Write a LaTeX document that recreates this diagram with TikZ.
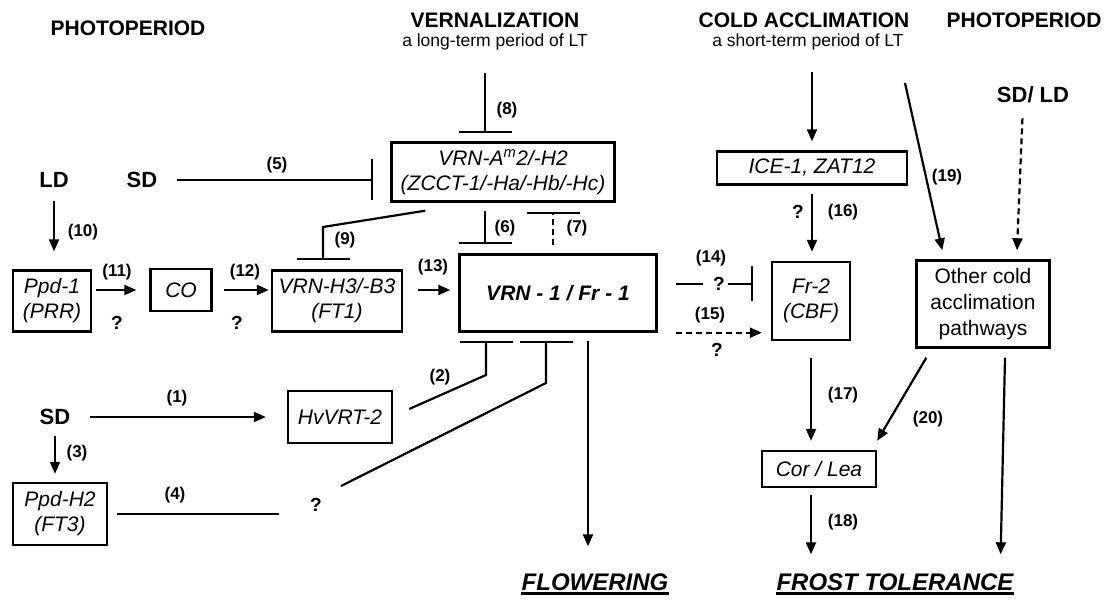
\documentclass[tikz,border=0pt]{standalone}
\usepackage{fontspec}
\setmainfont{Liberation Sans}
\usetikzlibrary{arrows.meta,positioning}

\begin{document}
\begin{tikzpicture}[x=1pt, y=-1pt,
  gene/.style={draw, line width=2.4pt, align=center, inner sep=0pt,
               font=\itshape\fontsize{21}{25}\selectfont},
  head/.style={font=\bfseries\fontsize{21}{24}\selectfont, inner sep=0pt},
  sub/.style={font=\fontsize{17.5}{20}\selectfont, inner sep=0pt},
  cue/.style={font=\bfseries\fontsize{22}{24}\selectfont, inner sep=1pt},
  lbl/.style={font=\bfseries\fontsize{17}{19}\selectfont, inner sep=1pt},
  qm/.style={font=\bfseries\fontsize{19}{21}\selectfont, inner sep=1pt},
  trait/.style={font=\bfseries\itshape\fontsize{24}{27}\selectfont, inner sep=0pt},
  arr/.style={-{Triangle[length=12pt,width=10pt]}, line width=2.2pt},
  inh/.style={-{Bar[width=#1]}, line width=2.2pt},
  inh/.default=53pt,
  dsh/.style={dash pattern=on 6pt off 4pt}
]
\useasboundingbox (0,0) rectangle (1111,601);

\node[head] (phL) at (128,28) {PHOTOPERIOD};
\node[head] (vern) at (495,20) {VERNALIZATION};
\node[sub] (vsub) at (495,42) {a long-term period of LT};
\node[head] (cold) at (804,20) {COLD ACCLIMATION};
\node[sub] (csub) at (808,42) {a short-term period of LT};
\node[head] (phR) at (1024,20) {PHOTOPERIOD};

\node[cue] (LD) at (54,180) {LD};
\node[cue] (SDa) at (142,180) {SD};
\node[cue] (SDb) at (55,417) {SD};
\node[cue] (SDLD) at (1033,95) {SD/ LD};

\node[gene, minimum width=78pt, minimum height=61pt] (Ppd1) at (52,301) {Ppd-1\\(PRR)};
\node[gene, minimum width=61pt, minimum height=42pt] (CO) at (181,290) {CO};
\node[gene, minimum width=130pt, minimum height=61pt] (VRNH3) at (337,301) {VRN-H3/-B3\\(FT1)};
\node[gene, minimum width=223pt, minimum height=59pt] (VRNA) at (503,172) {VRN-A\textsuperscript{m}2/-H2\\(ZCCT-1/-Ha/-Hb/-Hc)};
\node[gene, font=\bfseries\itshape\fontsize{21}{25}\selectfont, minimum width=197pt, minimum height=77pt] (VRN1) at (558,293) {VRN - 1 / Fr - 1};
\node[gene, minimum width=104pt, minimum height=52pt] (HvVRT) at (340,417) {HvVRT-2};
\node[gene, minimum width=94pt, minimum height=62pt] (PpdH2) at (60,514) {Ppd-H2\\(FT3)};
\node[gene, minimum width=190pt, minimum height=33pt] (ICE) at (812,168) {ICE-1, ZAT12};
\node[gene, minimum width=78pt, minimum height=78pt] (Fr2) at (811,301) {Fr-2\\(CBF)};
\node[gene, font=\fontsize{21}{26}\selectfont, minimum width=133pt, minimum height=87pt] (Other) at (983,304) {Other cold\\acclimation\\pathways};
\node[gene, minimum width=114pt, minimum height=36pt] (Cor) at (819,469) {Cor / Lea};

\node[trait] (FL) at (595,582) {FLOWERING};
\node[trait] (FT) at (895,582) {FROST TOLERANCE};
\draw[line width=2.4pt] ([yshift=-3pt]FL.south west) -- ([yshift=-3pt]FL.south east);
\draw[line width=2.4pt] ([yshift=-3pt]FT.south west) -- ([yshift=-3pt]FT.south east);

\node[lbl] (n1) at (177,398) {(1)};
\node[lbl] (n2) at (440,377) {(2)};
\node[lbl] (n3) at (77,453) {(3)};
\node[lbl] (n4) at (175,495) {(4)};
\node[lbl] (n5) at (277,165) {(5)};
\node[lbl] (n6) at (505,228) {(6)};
\node[lbl] (n7) at (577,228) {(7)};
\node[lbl] (n8) at (507,110) {(8)};
\node[lbl] (n9) at (345,240) {(9)};
\node[lbl] (n10) at (83,232) {(10)};
\node[lbl] (n11) at (117,272) {(11)};
\node[lbl] (n12) at (245,272) {(12)};
\node[lbl] (n13) at (433,267) {(13)};
\node[lbl] (n14) at (711,258) {(14)};
\node[lbl] (n15) at (710,315) {(15)};
\node[lbl] (n16) at (843,212) {(16)};
\node[lbl] (n17) at (843,395) {(17)};
\node[lbl] (n18) at (843,522) {(18)};
\node[lbl] (n19) at (947,177) {(19)};
\node[lbl] (n20) at (928,419) {(20)};

\node[qm] (q11) at (117,323) {?};
\node[qm] (q12) at (237,323) {?};
\node[qm] (q14) at (719,284) {?};
\node[qm] (q15) at (717,350) {?};
\node[qm] (q16) at (798,212) {?};
\node[qm] (q4) at (316,505) {?};

\coordinate (vtop) at (485,73);
\coordinate (k9) at (323,227);
\coordinate (k2) at (486,375);
\coordinate (k4) at (546,383);
\coordinate (c19) at (905,83);

\draw[arr, shorten <=12pt, shorten >=18pt] (LD.south) -- (LD.south |- Ppd1.north);
\draw[arr, shorten <=4pt, shorten >=13pt] (Ppd1.east |- CO.west) -- (CO.west);
\draw[arr, shorten <=11pt, shorten >=2pt] (CO.east) -- (CO.east -| VRNH3.west);
\draw[arr, shorten <=15pt, shorten >=8pt] (VRNH3.east |- CO.east) -- (VRN1.west |- CO.east);

\draw[inh=41pt, shorten <=19pt, shorten >=17pt] (SDa.east) -- (SDa.east -| VRNA.west);
\draw[inh, shorten >=8pt] (vtop) -- (vtop |- VRNA.north);
\draw[inh, shorten <=8pt, shorten >=9pt] ([xshift=-18pt]VRNA.south) -- ([xshift=-18pt]VRNA.south |- VRN1.north);
\draw[inh, dsh, shorten <=8pt, shorten >=9pt] ([xshift=-5pt]VRN1.north) -- ([xshift=-5pt]VRN1.north |- VRNA.south);
\draw[inh, shorten >=9pt] ([shift={(35pt,-8pt)}]VRNA.south west) -- (k9) -- (k9 |- VRNH3.north);

\draw[arr, shorten <=19pt, shorten >=21pt] (SDb.east) -- (HvVRT.west);
\draw[arr, shorten <=10pt, shorten >=8pt] (SDb.south) -- (SDb.south |- PpdH2.north);
\draw[inh, shorten >=8pt] ([shift={(16pt,8pt)}]HvVRT.east) -- (k2) -- (k2 |- VRN1.south);
\draw[line width=2.2pt, shorten <=9pt, shorten >=30pt] (PpdH2.east) -- (PpdH2.east -| q4.west);
\draw[inh, shorten >=8pt] ([shift={(25pt,19pt)}]q4.center) -- (k4) -- (k4 |- VRN1.south);

\draw[line width=2.2pt, shorten <=18pt, shorten >=9pt] (VRN1.east |- q14) -- (q14.west);
\draw[inh=35pt, shorten <=2pt, shorten >=18pt] (q14.east) -- (q14 -| Fr2.west);
\draw[arr, dsh, shorten <=18pt, shorten >=9pt] (VRN1.south east) -- (VRN1.south east -| Fr2.west);
\draw[arr, shorten <=8pt, shorten >=27pt] ([xshift=30pt]VRN1.south) -- ([xshift=30pt]VRN1.south |- FL.north);

\draw[arr, shorten <=22pt, shorten >=9pt] (csub.south -| ICE.north) -- (ICE.north);
\draw[arr, shorten <=8pt, shorten >=9pt] (ICE.south) -- (ICE.south |- Fr2.north);
\draw[arr, shorten <=17pt, shorten >=9pt] (Fr2.south) -- (Fr2.south |- Cor.north);
\draw[arr, shorten <=7pt, shorten >=19pt] (Fr2.south |- Cor.south) -- (Fr2.south |- FT.north);
\draw[arr] (c19) -- ([shift={(27pt,9pt)}]Other.north west);
\draw[arr, dsh, shorten <=14pt] ([xshift=-10pt]SDLD.south) -- ([shift={(34pt,9pt)}]Other.north);
\draw[arr] ([shift={(11pt,-9pt)}]Other.south west) -- ([yshift=9pt]Cor.north east);
\draw[arr] ([shift={(22pt,-9pt)}]Other.south) -- ([shift={(-13pt,19pt)}]FT.north east);
\end{tikzpicture}
\end{document}
